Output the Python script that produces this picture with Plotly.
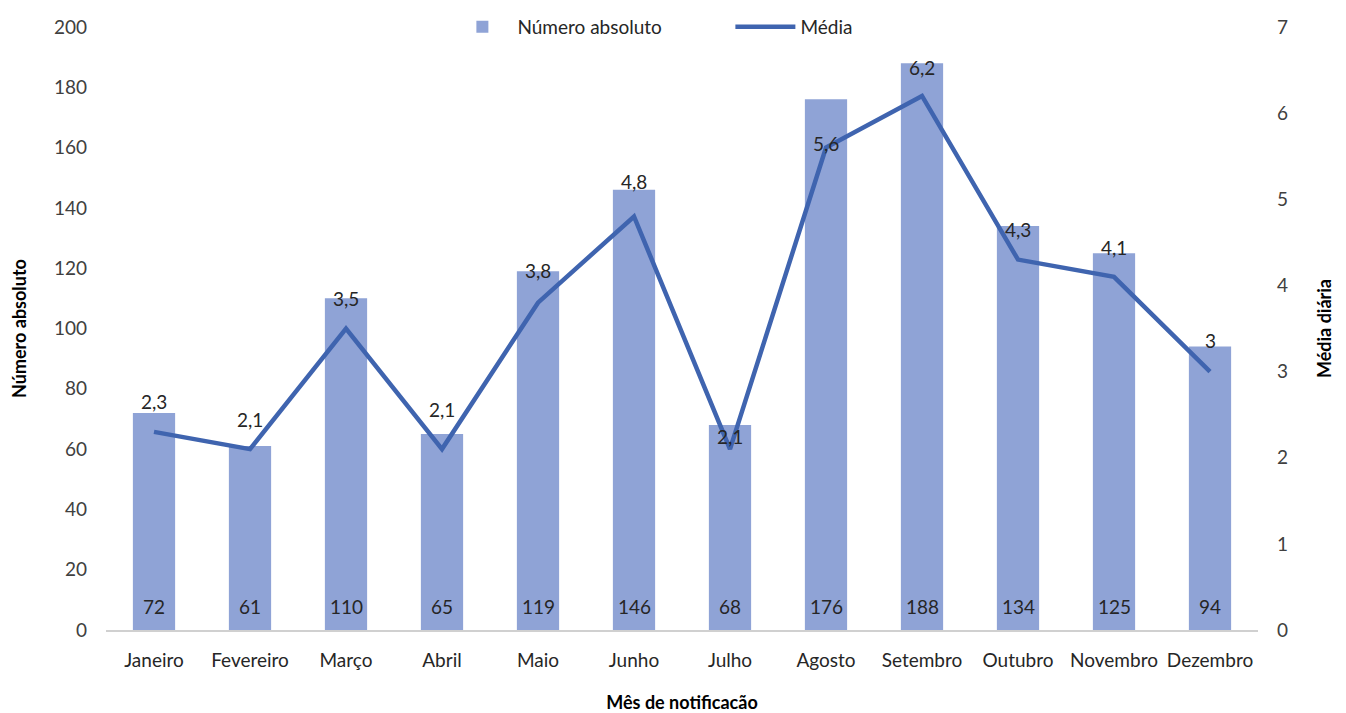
import plotly.graph_objects as go

meses = ['Janeiro', 'Fevereiro', 'Março', 'Abril', 'Maio', 'Junho', 'Julho',
         'Agosto', 'Setembro', 'Outubro', 'Novembro', 'Dezembro']
numero_absoluto = [72, 61, 110, 65, 119, 146, 68, 176, 188, 134, 125, 94]
media_diaria = [2.3, 2.1, 3.5, 2.1, 3.8, 4.8, 2.1, 5.6, 6.2, 4.3, 4.1, 3.0]

# label offsets above the line points (px), as placed in the original
label_shift = [28, 28, 28, 38, 30, 33, 11, 2, 26, 28, 27, 29]

bar_color = '#8FA3D6'
line_color = '#3F64AF'
font_family = 'Lato, Open Sans, sans-serif'
fs = 19

def fmt(v):
    s = ('%.1f' % v).replace('.', ',')
    return s[:-2] if s.endswith(',0') else s

fig = go.Figure()
fig.add_trace(go.Bar(
    x=meses, y=numero_absoluto, name='Número absoluto',
    marker=dict(color=bar_color, line=dict(width=0)),
))
fig.add_trace(go.Scatter(
    x=meses, y=media_diaria, name='Média', yaxis='y2',
    mode='lines', line=dict(color=line_color, width=4.5),
))

# counts written at the foot of each bar
for m, n in zip(meses, numero_absoluto):
    fig.add_annotation(x=m, y=0, text=str(n), showarrow=False, yanchor='bottom',
                       yshift=10, font=dict(size=fs, color='#262626'))

for m, v, s in zip(meses, media_diaria, label_shift):
    fig.add_annotation(x=m, y=v, yref='y2', text=fmt(v), showarrow=False,
                       yshift=s + 2, font=dict(size=fs, color='#262626'))

fig.update_layout(
    width=1346, height=713,
    margin=dict(l=98, r=96, t=19, b=91, autoexpand=False),
    plot_bgcolor='white', paper_bgcolor='white',
    font=dict(family=font_family, size=fs, color='#404040'),
    bargap=0.56,
    showlegend=True,
    legend=dict(orientation='h', x=0.542, xanchor='center', y=1.0, yanchor='middle',
                font=dict(size=fs, color='#262626'), bgcolor='rgba(0,0,0,0)',
                itemwidth=60, tracegroupgap=0, entrywidth=208),
    xaxis=dict(showgrid=False, showline=True, linecolor='#d0d0d0', linewidth=1.5,
               ticks='', tickfont=dict(size=fs, color='#262626'), ticklabelstandoff=12,
               title=dict(text='<b>Mês de notificacão</b>', font=dict(size=18, color='#000000'),
                          standoff=27)),
    yaxis=dict(range=[0, 200], dtick=20, showgrid=False, zeroline=False, ticks='',
               tickfont=dict(size=fs, color='#404040'), ticklabelstandoff=18,
               title=dict(text='<b>Número absoluto</b>', font=dict(size=18, color='#000000'),
                          standoff=29)),
    yaxis2=dict(range=[0, 7], dtick=1, overlaying='y', side='right', showgrid=False,
                zeroline=False, ticks='', tickfont=dict(size=fs, color='#404040'),
                ticklabelstandoff=18,
                title=dict(text='<b>Média diária</b>', font=dict(size=18, color='#000000'),
                           standoff=31)),
)

fig.write_html('out.html')
